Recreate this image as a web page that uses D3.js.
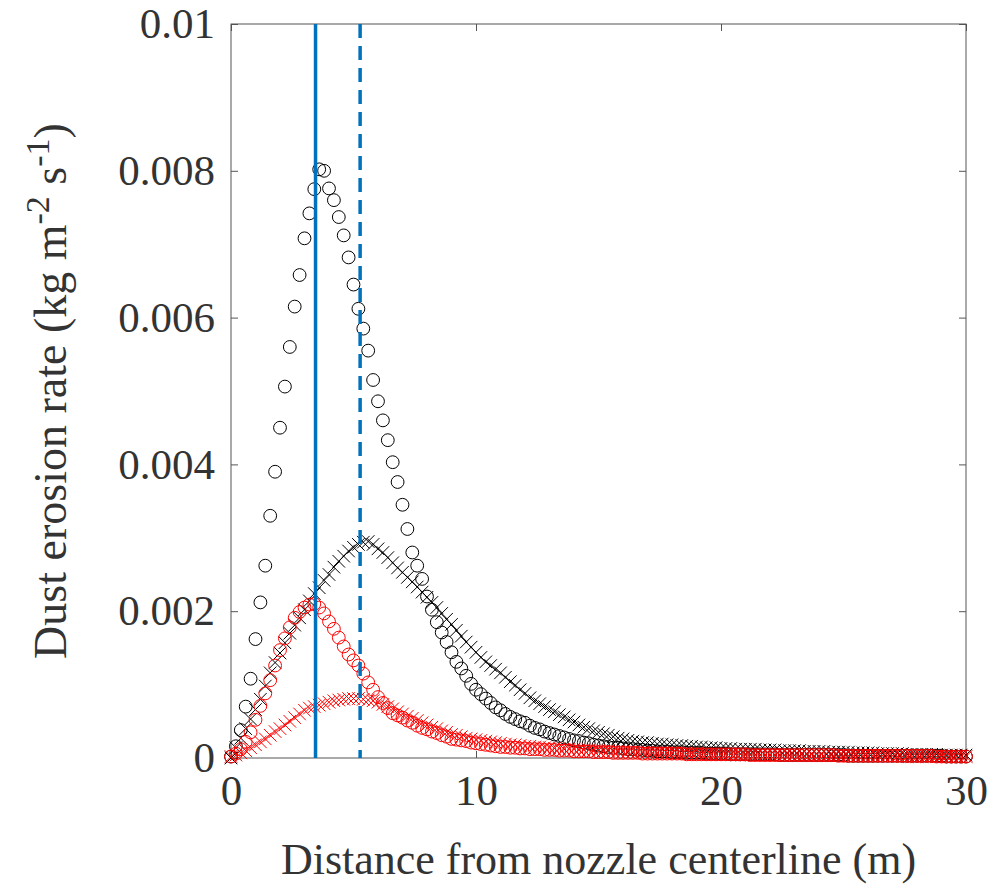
<!DOCTYPE html>
<html>
<head>
<meta charset="utf-8">
<script src="https://cdn.jsdelivr.net/npm/d3@7"></script>
<style>
  html, body { margin: 0; padding: 0; background: #fff; }
  svg { display: block; }
</style>
</head>
<body>
<svg id="chart"></svg>
<script>
// distance from nozzle centerline (m)
const distance = [
  0.0, 0.2, 0.4, 0.6, 0.8, 1.0, 1.2, 1.4, 1.6, 1.8,
  2.0, 2.2, 2.4, 2.6, 2.8, 3.0, 3.2, 3.4, 3.6, 3.8,
  4.0, 4.2, 4.4, 4.6, 4.8, 5.0, 5.2, 5.4, 5.6, 5.8,
  6.0, 6.2, 6.4, 6.6, 6.8, 7.0, 7.2, 7.4, 7.6, 7.8,
  8.0, 8.2, 8.4, 8.6, 8.8, 9.0, 9.2, 9.4, 9.6, 9.8,
  10.0, 10.2, 10.4, 10.6, 10.8, 11.0, 11.2, 11.4, 11.6, 11.8,
  12.0, 12.2, 12.4, 12.6, 12.8, 13.0, 13.2, 13.4, 13.6, 13.8,
  14.0, 14.2, 14.4, 14.6, 14.8, 15.0, 15.2, 15.4, 15.6, 15.8,
  16.0, 16.2, 16.4, 16.6, 16.8, 17.0, 17.2, 17.4, 17.6, 17.8,
  18.0, 18.2, 18.4, 18.6, 18.8, 19.0, 19.2, 19.4, 19.6, 19.8,
  20.0, 20.2, 20.4, 20.6, 20.8, 21.0, 21.2, 21.4, 21.6, 21.8,
  22.0, 22.2, 22.4, 22.6, 22.8, 23.0, 23.2, 23.4, 23.6, 23.8,
  24.0, 24.2, 24.4, 24.6, 24.8, 25.0, 25.2, 25.4, 25.6, 25.8,
  26.0, 26.2, 26.4, 26.6, 26.8, 27.0, 27.2, 27.4, 27.6, 27.8,
  28.0, 28.2, 28.4, 28.6, 28.8, 29.0, 29.2, 29.4, 29.6, 29.8,
  30.0
];

// dust erosion rate, in units of 1e-3 kg m^-2 s^-1
const blackCircles = [
  0.02, 0.16, 0.38, 0.70, 1.08, 1.62, 2.12, 2.62, 3.30, 3.90,
  4.50, 5.06, 5.60, 6.15, 6.58, 7.08, 7.42, 7.75, 8.02, 8.00,
  7.76, 7.60, 7.37, 7.12, 6.82, 6.45, 6.12, 5.85, 5.55, 5.15,
  4.86, 4.60, 4.33, 4.03, 3.76, 3.45, 3.12, 2.80, 2.62, 2.44,
  2.20, 2.02, 1.85, 1.71, 1.58, 1.44, 1.31, 1.22, 1.12, 1.01,
  0.93, 0.87, 0.81, 0.75, 0.69, 0.65, 0.60, 0.56, 0.53, 0.50,
  0.48, 0.44, 0.41, 0.39, 0.36, 0.34, 0.32, 0.30, 0.28, 0.26,
  0.24, 0.23, 0.21, 0.20, 0.18, 0.17, 0.16, 0.15, 0.14, 0.14,
  0.13, 0.12, 0.12, 0.11, 0.11, 0.10, 0.10, 0.09, 0.09, 0.09,
  0.08, 0.08, 0.08, 0.07, 0.07, 0.07, 0.07, 0.06, 0.06, 0.06,
  0.06, 0.06, 0.05, 0.05, 0.05, 0.05, 0.05, 0.05, 0.05, 0.05,
  0.05, 0.05, 0.04, 0.04, 0.04, 0.04, 0.04, 0.04, 0.04, 0.04,
  0.04, 0.04, 0.04, 0.04, 0.04, 0.04, 0.03, 0.03, 0.03, 0.03,
  0.03, 0.03, 0.03, 0.03, 0.03, 0.03, 0.03, 0.03, 0.03, 0.03,
  0.03, 0.03, 0.03, 0.03, 0.03, 0.03, 0.02, 0.02, 0.02, 0.02,
  0.02
];

const blackCrosses = [
  0.00, 0.14, 0.27, 0.40, 0.53, 0.66, 0.80, 0.98, 1.16, 1.30,
  1.43, 1.57, 1.70, 1.81, 1.91, 2.02, 2.14, 2.24, 2.32, 2.42,
  2.50, 2.60, 2.68, 2.75, 2.82, 2.87, 2.91, 2.94, 2.95, 2.91,
  2.85, 2.80, 2.73, 2.66, 2.59, 2.53, 2.46, 2.40, 2.33, 2.26,
  2.19, 2.12, 2.05, 1.97, 1.89, 1.82, 1.74, 1.66, 1.58, 1.51,
  1.44, 1.37, 1.31, 1.26, 1.21, 1.16, 1.10, 1.04, 0.99, 0.93,
  0.88, 0.82, 0.78, 0.74, 0.70, 0.66, 0.63, 0.59, 0.56, 0.52,
  0.49, 0.45, 0.42, 0.40, 0.37, 0.35, 0.33, 0.31, 0.29, 0.27,
  0.26, 0.24, 0.23, 0.22, 0.21, 0.21, 0.20, 0.19, 0.19, 0.18,
  0.18, 0.17, 0.17, 0.16, 0.16, 0.15, 0.15, 0.14, 0.14, 0.14,
  0.13, 0.13, 0.13, 0.12, 0.12, 0.12, 0.12, 0.12, 0.11, 0.11,
  0.11, 0.11, 0.10, 0.10, 0.10, 0.10, 0.10, 0.09, 0.09, 0.09,
  0.09, 0.09, 0.08, 0.08, 0.08, 0.08, 0.08, 0.07, 0.07, 0.07,
  0.07, 0.07, 0.06, 0.06, 0.06, 0.06, 0.06, 0.06, 0.05, 0.05,
  0.05, 0.05, 0.05, 0.05, 0.05, 0.04, 0.04, 0.04, 0.04, 0.04,
  0.04
];

const redCircles = [
  0.02, 0.06, 0.12, 0.22, 0.35, 0.52, 0.71, 0.88, 1.06, 1.26,
  1.47, 1.63, 1.78, 1.91, 1.99, 2.05, 2.09, 2.10, 2.05, 1.97,
  1.86, 1.76, 1.64, 1.52, 1.41, 1.33, 1.26, 1.15, 1.03, 0.93,
  0.83, 0.75, 0.68, 0.61, 0.58, 0.55, 0.51, 0.48, 0.44, 0.41,
  0.39, 0.36, 0.34, 0.31, 0.29, 0.26, 0.25, 0.24, 0.23, 0.21,
  0.20, 0.19, 0.18, 0.17, 0.16, 0.15, 0.15, 0.14, 0.14, 0.13,
  0.13, 0.12, 0.12, 0.12, 0.11, 0.11, 0.11, 0.10, 0.10, 0.10,
  0.09, 0.09, 0.09, 0.09, 0.08, 0.08, 0.08, 0.08, 0.07, 0.07,
  0.07, 0.07, 0.07, 0.07, 0.06, 0.06, 0.06, 0.06, 0.06, 0.06,
  0.06, 0.06, 0.06, 0.05, 0.05, 0.05, 0.05, 0.05, 0.05, 0.05,
  0.05, 0.05, 0.05, 0.05, 0.05, 0.05, 0.04, 0.04, 0.04, 0.04,
  0.04, 0.04, 0.04, 0.04, 0.04, 0.04, 0.04, 0.04, 0.04, 0.04,
  0.04, 0.04, 0.04, 0.04, 0.03, 0.03, 0.03, 0.03, 0.03, 0.03,
  0.03, 0.03, 0.03, 0.03, 0.03, 0.03, 0.03, 0.03, 0.03, 0.03,
  0.03, 0.03, 0.03, 0.03, 0.02, 0.02, 0.02, 0.02, 0.02, 0.02,
  0.02
];

const redCrosses = [
  0.02, 0.04, 0.07, 0.10, 0.14, 0.18, 0.22, 0.26, 0.31, 0.36,
  0.40, 0.45, 0.50, 0.55, 0.60, 0.65, 0.68, 0.70, 0.72, 0.74,
  0.76, 0.78, 0.79, 0.80, 0.81, 0.81, 0.81, 0.80, 0.79, 0.78,
  0.76, 0.73, 0.70, 0.67, 0.63, 0.60, 0.57, 0.54, 0.51, 0.48,
  0.45, 0.42, 0.40, 0.37, 0.35, 0.32, 0.31, 0.29, 0.27, 0.26,
  0.25, 0.24, 0.23, 0.22, 0.21, 0.20, 0.19, 0.18, 0.18, 0.17,
  0.16, 0.16, 0.15, 0.15, 0.14, 0.14, 0.13, 0.13, 0.12, 0.12,
  0.12, 0.11, 0.11, 0.11, 0.10, 0.10, 0.10, 0.10, 0.09, 0.09,
  0.09, 0.09, 0.08, 0.08, 0.08, 0.08, 0.07, 0.07, 0.07, 0.07,
  0.07, 0.06, 0.06, 0.06, 0.06, 0.06, 0.05, 0.05, 0.05, 0.05,
  0.05, 0.05, 0.05, 0.05, 0.05, 0.04, 0.04, 0.04, 0.04, 0.04,
  0.04, 0.04, 0.04, 0.04, 0.04, 0.04, 0.03, 0.03, 0.03, 0.03,
  0.03, 0.03, 0.03, 0.03, 0.03, 0.03, 0.03, 0.03, 0.03, 0.03,
  0.03, 0.03, 0.03, 0.03, 0.03, 0.03, 0.02, 0.02, 0.02, 0.02,
  0.02, 0.02, 0.02, 0.02, 0.02, 0.02, 0.02, 0.02, 0.02, 0.02,
  0.02
];

// vertical reference lines (m)
const solidLineX = [3.45];
const dashedLineX = [5.27];

const xTicks = [0, 10, 20, 30];
const yTicks = [0, 2, 4, 6, 8, 10];
const yTickLabels = ['0', '0.002', '0.004', '0.006', '0.008', '0.01'];

const width = 995, height = 892;
const margin = { top: 24, right: 29, bottom: 134, left: 231 };
const innerW = width - margin.left - margin.right;
const innerH = height - margin.top - margin.bottom;

const fontFamily = '"Liberation Serif", "Times New Roman", serif';
const textColor = '#333';
const axisColor = '#555';

const svg = d3.select('#chart')
  .attr('width', width)
  .attr('height', height);

const g = svg.append('g')
  .attr('transform', `translate(${margin.left},${margin.top})`);

const x = d3.scaleLinear().domain([0, 30]).range([0, innerW]);
const y = d3.scaleLinear().domain([0, 10]).range([innerH, 0]);

// axes
function styleAxis(sel) {
  sel.select('.domain').remove();
  sel.selectAll('.tick line').attr('stroke', axisColor).attr('stroke-width', 1);
  sel.selectAll('.tick text')
    .attr('fill', textColor)
    .style('font-family', fontFamily)
    .style('font-size', '43px');
}

g.append('g')
  .attr('transform', `translate(0,${innerH})`)
  .call(d3.axisBottom(x).tickValues(xTicks).tickFormat(d3.format('d'))
    .tickSizeInner(-7).tickSizeOuter(0).tickPadding(16))
  .call(styleAxis);

g.append('g')
  .call(d3.axisTop(x).tickValues(xTicks).tickFormat('')
    .tickSizeInner(-7).tickSizeOuter(0))
  .call(styleAxis);

g.append('g')
  .call(d3.axisLeft(y).tickValues(yTicks).tickFormat((d, i) => yTickLabels[i])
    .tickSizeInner(-7).tickSizeOuter(0).tickPadding(16))
  .call(styleAxis);

g.append('g')
  .attr('transform', `translate(${innerW},0)`)
  .call(d3.axisRight(y).tickValues(yTicks).tickFormat('')
    .tickSizeInner(-7).tickSizeOuter(0))
  .call(styleAxis);

g.append('rect')
  .attr('x', 0).attr('y', 0)
  .attr('width', innerW).attr('height', innerH)
  .attr('fill', 'none')
  .attr('stroke', axisColor)
  .attr('stroke-width', 1);

// series
const pts = vals => distance.map((d, i) => ({ d, v: vals[i] }));

function drawCircles(vals, color) {
  g.append('g').selectAll('circle')
    .data(pts(vals))
    .join('circle')
    .attr('cx', p => x(p.d))
    .attr('cy', p => y(p.v))
    .attr('r', 6.4)
    .attr('fill', 'none')
    .attr('stroke', color)
    .attr('stroke-width', 1);
}

const cross = d3.symbol().type(d3.symbolTimes).size(105);
function drawCrosses(vals, color) {
  g.append('g').selectAll('path')
    .data(pts(vals))
    .join('path')
    .attr('transform', p => `translate(${x(p.d)},${y(p.v)})`)
    .attr('d', cross)
    .attr('fill', 'none')
    .attr('stroke', color)
    .attr('stroke-width', 1);
}

drawCircles(blackCircles, '#000');
drawCrosses(blackCrosses, '#000');
drawCircles(redCircles, '#ff0000');
drawCrosses(redCrosses, '#ff0000');

// reference lines
g.append('g').selectAll('line')
  .data(solidLineX)
  .join('line')
  .attr('x1', d => x(d)).attr('x2', d => x(d))
  .attr('y1', y(0)).attr('y2', y(10))
  .attr('stroke', '#0072BD')
  .attr('stroke-width', 3.5);

g.append('g').selectAll('line')
  .data(dashedLineX)
  .join('line')
  .attr('x1', d => x(d)).attr('x2', d => x(d))
  .attr('y1', y(10)).attr('y2', y(0))
  .attr('stroke', '#0072BD')
  .attr('stroke-width', 3.5)
  .attr('stroke-dasharray', '14,8');

// axis titles
svg.append('text')
  .attr('x', margin.left + innerW / 2)
  .attr('y', 874)
  .attr('text-anchor', 'middle')
  .attr('fill', textColor)
  .style('font-family', fontFamily)
  .style('font-size', '44px')
  .text('Distance from nozzle centerline (m)');

const yTitle = svg.append('text')
  .attr('transform', `translate(66,${margin.top + innerH / 2}) rotate(-90)`)
  .attr('text-anchor', 'middle')
  .attr('fill', textColor)
  .style('font-family', fontFamily)
  .style('font-size', '46px');
yTitle.append('tspan').text('Dust erosion rate (kg m');
yTitle.append('tspan').attr('dy', -17).style('font-size', '34px').text('-2');
yTitle.append('tspan').attr('dy', 17).text(' s');
yTitle.append('tspan').attr('dy', -17).style('font-size', '34px').text('-1');
yTitle.append('tspan').attr('dy', 17).text(')');
</script>
</body>
</html>
